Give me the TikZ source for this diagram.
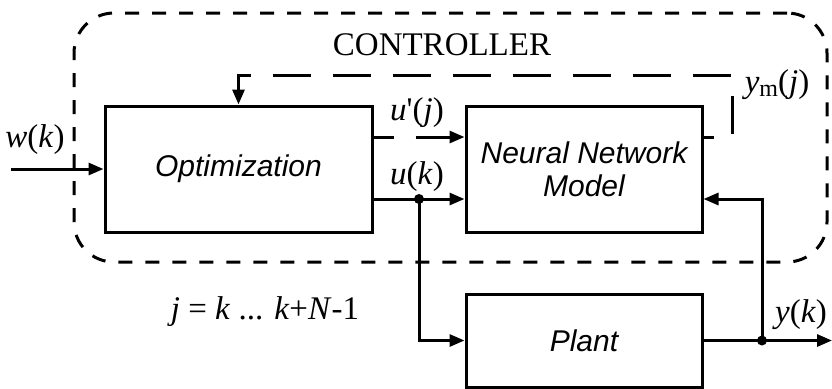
\documentclass[tikz,border=0pt]{standalone}
\usepackage{fontspec}
\setmainfont{Liberation Serif}
\newfontfamily\blkfont{Liberation Sans}
\usetikzlibrary{arrows.meta,calc}
\newcommand{\vr}[1]{\textit{#1}}

\begin{document}
\begin{tikzpicture}[x=0.5pt, y=-0.5pt, line width=1.5pt, >={Triangle[length=7.5pt,width=6pt]},
      blk/.style={draw, line width=1.5pt, align=center, inner sep=0pt,
                  font=\blkfont\itshape\fontsize{15}{16.5}\selectfont},
      lbl/.style={inner sep=0pt, font=\fontsize{16.5}{19}\selectfont},
      fb/.style={dash pattern=on 19pt off 11pt},
      dot/.style={circle, fill, inner sep=0pt, minimum size=5pt}]
    \useasboundingbox (0,0) rectangle (832,388);
    % controller frame
    \node[draw, dash pattern=on 7pt off 6.5pt, rounded corners=20pt, minimum width=376.5pt,
          minimum height=124.5pt] (ctrl) at (450.5,137.5) {};
    \node[font=\fontsize{16.5}{19}\selectfont] (ctrltxt) at (442,45) {CONTROLLER};
    % blocks
    \node[blk, minimum width=133.5pt, minimum height=63pt] (opt) at (238.5,169) {Optimization};
    \node[blk, minimum width=118pt, minimum height=63pt] (nn) at (584,169) {Neural Network\\Model};
    \node[blk, minimum width=118pt, minimum height=46.5pt] (plant) at (584,340.5) {Plant};
    % branch points
    \coordinate (in) at (11,169);
    \coordinate (br) at (419,199);
    \coordinate (yb) at (762,340.5);
    \coordinate (out) at (832,340.5);
    \coordinate (ym) at (732,75);
    % signals
    \draw[->] (in) -- (opt.west);
    \draw[->] (opt.east |- br) -- (nn.west |- br);
    \draw[->] (br) |- (plant.west);
    \draw[->] (plant.east) -- (out);
    \draw[->] (yb) |- (nn.east |- br);
    \draw[->, fb, dash phase=9pt] (opt.east |- 0,137) -- (nn.west |- 0,137);
    \draw[->, fb, dash phase=14pt] (nn.east |- 0,137) -| (ym) -| (opt.north);
    \node[dot] (brdot) at (br) {};
    \node[dot] (ybdot) at (yb) {};
    % labels
    \node[lbl] (wlbl) at (35,140) {\vr{w}(\vr{k})};
    \node[lbl] (uplbl) at (417,113) {\vr{u}\textquotesingle(\vr{j})};
    \node[lbl] (ulbl) at (417,177) {\vr{u}(\vr{k})};
    \node[lbl] (ymlbl) at (777,85) {\vr{y}\raisebox{-0.25ex}{\fontsize{12}{14}\selectfont m}(\vr{j})};
    \node[lbl] (ylbl) at (801,315) {\vr{y}(\vr{k})};
    \node[lbl] (jlbl) at (265,312) {\vr{j} = \vr{k} ... \vr{k}+\vr{N}-1};
\end{tikzpicture}
\end{document}
